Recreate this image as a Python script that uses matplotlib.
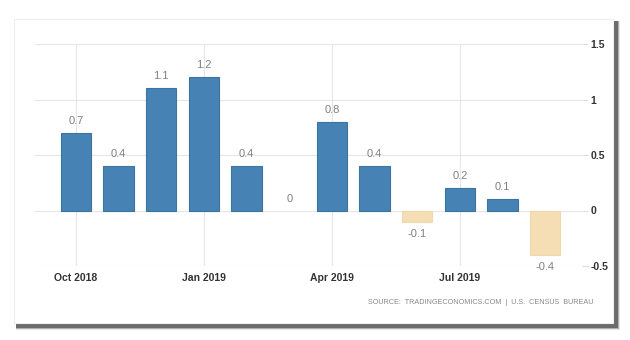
"""Monthly change bar chart, tradingeconomics style."""

import matplotlib.pyplot as plt
from matplotlib.patches import Rectangle

plt.rcParams["font.family"] = ["Liberation Sans", "DejaVu Sans"]

months = ["Oct 2018", "Nov 2018", "Dec 2018", "Jan 2019", "Feb 2019", "Mar 2019",
          "Apr 2019", "May 2019", "Jun 2019", "Jul 2019", "Aug 2019", "Sep 2019"]
values = [0.7, 0.4, 1.1, 1.2, 0.4, 0.0, 0.8, 0.4, -0.1, 0.2, 0.1, -0.4]
tick_labels = ["Oct 2018", "Jan 2019", "Apr 2019", "Jul 2019"]
y_ticks = [-0.5, 0, 0.5, 1, 1.5]
source = "SOURCE:  TRADINGECONOMICS.COM  |  U.S.  CENSUS  BUREAU"

W, H = 630, 340
fig = plt.figure(figsize=(W / 100, H / 100), dpi=100)
fig.patch.set_facecolor("white")


def px(x, y, w, h):
    # pixel box (top-left origin) -> figure fraction
    return (x / W, 1 - (y + h) / H), w / W, h / H


# card shadow: grows out to the right and bottom, a few soft layers
for grow, alpha in [(7, 0.12), (6, 0.3), (5, 0.55)]:
    xy, w, h = px(16, 21, 597 + grow, 302 + grow)
    fig.patches.append(Rectangle(xy, w, h, transform=fig.transFigure,
                                 facecolor="#333333", edgecolor="none", alpha=alpha, zorder=0))
xy, w, h = px(14, 19, 599, 304)
fig.patches.append(Rectangle(xy, w, h, transform=fig.transFigure,
                             facecolor="white", edgecolor="#eeeeee", linewidth=0.8, zorder=1))

ax = fig.add_axes([35 / W, 1 - 266 / H, 547 / W, 222 / H])
ax.set_facecolor("none")
ax.set_zorder(2)

x = list(range(len(values)))
colors = ["#4682b4" if v >= 0 else "#f5deb3" for v in values]
edges = ["#3b73a3" if v >= 0 else "#f0d8ac" for v in values]
widths = [0.8 if v != 0 else 0 for v in values]
ax.bar(x, values, width=0.71, color=colors, edgecolor=edges, linewidth=widths, zorder=3)

for i, v in enumerate(values):
    if v >= 0:
        ax.annotate(f"{v:g}", (i, v), xytext=(0, 5), textcoords="offset points",
                    ha="center", va="bottom", fontsize=8, color="#808080")
    else:
        ax.annotate(f"{v:g}", (i, v), xytext=(0, -5), textcoords="offset points",
                    ha="center", va="top", fontsize=8, color="#808080")

ax.set_xlim(-0.96, 11.86)
ax.set_ylim(-0.5, 1.5)
ax.set_xticks([months.index(t) for t in tick_labels])
ax.set_xticklabels(tick_labels, fontsize=7.5, color="#333333", fontweight="bold")
ax.set_yticks(y_ticks)
ax.set_yticklabels([f"{t:g}" for t in y_ticks], fontsize=7.5, color="#333333", fontweight="bold")
ax.yaxis.tick_right()
ax.tick_params(axis="y", length=4, width=0.8, color="#dddddd", pad=2)
ax.tick_params(axis="x", length=0, pad=5)
ax.grid(True, color="#e6e6e6", linewidth=0.8, zorder=0)
for s in ax.spines.values():
    s.set_visible(False)

fig.text(593 / W, 1 - 302 / H, source, ha="right", va="center",
         fontsize=5.2, color="#888888", zorder=3)

fig.savefig("out.png", dpi=100, facecolor="white")
